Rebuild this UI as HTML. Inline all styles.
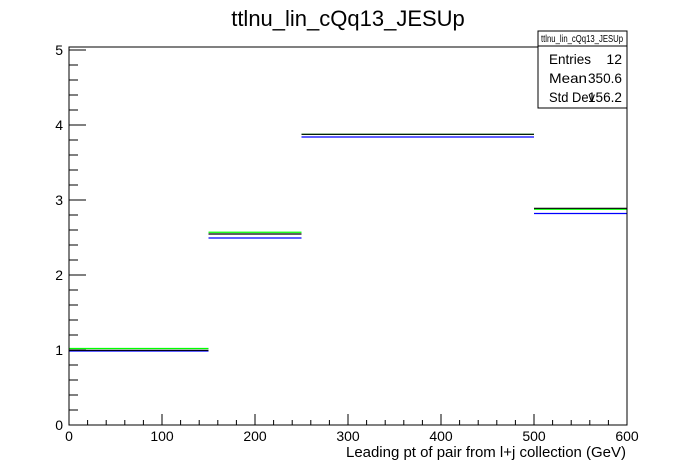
<!DOCTYPE html>
<html><head><meta charset="utf-8"><style>
body{margin:0;background:#fff;}
svg{display:block;font-family:"Liberation Sans",Arial,sans-serif;}
</style></head><body>
<svg id="c" width="696" height="472" viewBox="0 0 696 472">
<rect width="696" height="472" fill="#fff"/>
<text x="348" y="26" font-size="22" text-anchor="middle">ttlnu_lin_cQq13_JESUp</text>
<g id="marks"></g>
<rect x="69" y="47" width="558" height="378" fill="none" stroke="#000" stroke-width="1"/>
<g id="axes"></g>
<text x="626" y="457" font-size="15" text-anchor="end" textLength="280">Leading pt of pair from l+j collection (GeV)</text>
<g>
<rect x="538" y="31" width="89" height="77" fill="#fff" stroke="#000"/>
<line x1="538" y1="46" x2="627" y2="46" stroke="#000"/>
<text x="582" y="42" font-size="10" text-anchor="middle" textLength="82" lengthAdjust="spacingAndGlyphs">ttlnu_lin_cQq13_JESUp</text>
<text x="549" y="64" font-size="14" textLength="42" lengthAdjust="spacingAndGlyphs">Entries</text><text x="622" y="64" font-size="14" text-anchor="end">12</text>
<text x="549" y="83" font-size="14" textLength="38" lengthAdjust="spacingAndGlyphs">Mean</text><text x="622" y="83" font-size="14" text-anchor="end" textLength="34" lengthAdjust="spacingAndGlyphs">350.6</text>
<text x="549" y="102" font-size="14" textLength="46" lengthAdjust="spacingAndGlyphs">Std Dev</text><text x="622" y="102" font-size="14" text-anchor="end" textLength="34" lengthAdjust="spacingAndGlyphs">156.2</text>
</g>
</svg>
<script>
const binEdges=[0,150,250,500,600];
const greenVals=[1.02,2.57,3.876,2.876];
const blueVals=[0.987,2.493,3.84,2.82];
const blackVals=[0.996,2.547,3.876,2.889];
const xTicks=[0,100,200,300,400,500,600];
const yTicks=[0,1,2,3,4,5];
const X=v=>69+v*558/600, Y=v=>425-v*75;
const NS="http://www.w3.org/2000/svg";
const marks=document.getElementById('marks'), axes=document.getElementById('axes');
function ln(p,x1,y1,x2,y2,c,w){const l=document.createElementNS(NS,'line');l.setAttribute('x1',x1);l.setAttribute('y1',y1);l.setAttribute('x2',x2);l.setAttribute('y2',y2);l.setAttribute('stroke',c);l.setAttribute('stroke-width',w);p.appendChild(l);return l;}
[['green',greenVals,'#00ff00'],['blue',blueVals,'#0000ff'],['black',blackVals,'#000']].forEach(([n,vals,c])=>{
 vals.forEach((v,i)=>{
  const l=ln(marks,X(binEdges[i]),Y(v),X(binEdges[i+1]),Y(v),c,1.2);
  
  
 });
});
xTicks.forEach(t=>{
 const tk=ln(axes,X(t),425,X(t),414,'#000',1);
 
 
 const tx=document.createElementNS(NS,'text');tx.setAttribute('x',X(t));tx.setAttribute('y',441);tx.setAttribute('font-size','14');tx.setAttribute('text-anchor','middle');tx.textContent=t;
 
 
 axes.appendChild(tx);
});
for(let t=0;t<600;t+=20){if(t%100)ln(axes,X(t),425,X(t),420,'#000',1);}
yTicks.forEach(t=>{
 const tk=ln(axes,69,Y(t),86,Y(t),'#000',1);
 
 
 const tx=document.createElementNS(NS,'text');tx.setAttribute('x',63);tx.setAttribute('y',Y(t)+5);tx.setAttribute('font-size','14');tx.setAttribute('text-anchor','end');tx.textContent=t;
 
 
 axes.appendChild(tx);
});
for(let t=0;t<5.1;t+=0.2){if(Math.abs(t-Math.round(t))>0.01)ln(axes,69,Y(t),78,Y(t),'#000',1);}
</script>
</body></html>
